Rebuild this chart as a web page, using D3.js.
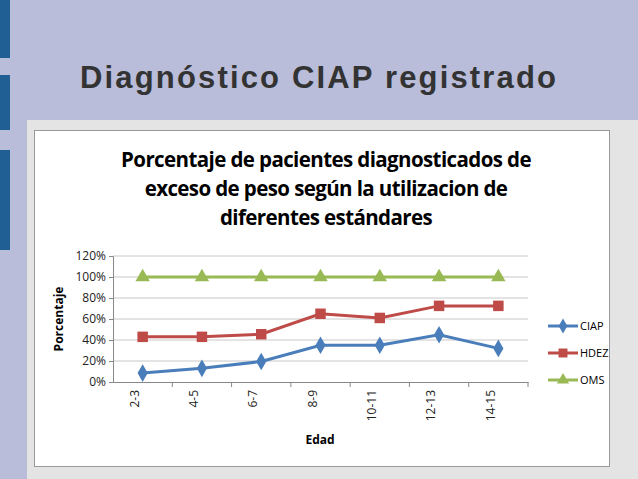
<!DOCTYPE html><html><head><meta charset="utf-8">
<script src="https://cdn.jsdelivr.net/npm/d3@7"></script>
<style>body{margin:0}</style></head><body><svg width="638" height="479"></svg>
<script>
const categories=["2-3","4-5","6-7","8-9","10-11","12-13","14-15"];
const ciap=[0.085,0.13,0.195,0.35,0.35,0.45,0.32];
const hdez=[0.43,0.43,0.455,0.65,0.61,0.725,0.725];
const oms=[1,1,1,1,1,1,1];
const yTicks=[0,0.2,0.4,0.6,0.8,1,1.2];
const series=[{name:"CIAP",v:ciap,c:"#4a7ebb",m:"diamond"},{name:"HDEZ",v:hdez,c:"#be4b48",m:"square"},{name:"OMS",v:oms,c:"#98b954",m:"triangle"}];
const svg=d3.select("svg");
svg.append("rect").attr("width",638).attr("height",479).attr("fill","#b9bdd9");
[[0,58],[75,130],[150,250]].forEach(([a,b])=>svg.append("rect").attr("x",0).attr("y",a).attr("width",10).attr("height",b-a).attr("fill","#1f5f94"));
svg.append("text").attr("x",80).attr("y",88).attr("font-family","Liberation Sans").attr("font-weight","bold").attr("font-size",31).attr("textLength",476).attr("fill","#333").text("Diagnóstico CIAP registrado");
svg.append("rect").attr("x",27).attr("y",120).attr("width",611).attr("height",359).attr("fill","#e4e4e4");
svg.append("rect").attr("x",34.5).attr("y",130.5).attr("width",575).attr("height",336).attr("fill","#fff").attr("stroke","#999");
const t=svg.append("text").attr("font-family","Open Sans").attr("font-weight","bold").attr("font-size",20.5).attr("text-anchor","middle").attr("fill","#000").attr("letter-spacing","-0.6");
["Porcentaje de pacientes diagnosticados de","exceso de peso según la utilizacion de","diferentes estándares"].forEach((s,i)=>t.append("tspan").attr("x",326).attr("y",167+i*29).text(s));
const x=d3.scaleBand().domain(categories).range([113,528]);
const y=d3.scaleLinear().domain([0,1.2]).range([382,256]);
const g=svg.append("g");
yTicks.forEach(v=>{if(v>0)g.append("line").attr("x1",113).attr("x2",528).attr("y1",y(v)).attr("y2",y(v)).attr("stroke","#c8c8c8");});
g.append("g").attr("transform","translate(113,0)").call(d3.axisLeft(y).tickValues(yTicks).tickFormat(d3.format(".0%")).tickSize(4)).call(a=>{a.select(".domain").attr("stroke","#888");a.selectAll("line").attr("stroke","#888");a.selectAll("text").attr("font-family","Open Sans").attr("font-size",12).attr("fill","#222");});
const xa=g.append("g").attr("transform","translate(0,382)").call(d3.axisBottom(x).tickSize(0).tickPadding(8));
xa.select(".domain").attr("stroke","#888");
categories.forEach((c,i)=>g.append("line").attr("x1",113+i*x.step()+x.step()).attr("x2",113+i*x.step()+x.step()).attr("y1",382).attr("y2",387).attr("stroke","#888"));
xa.selectAll("text").attr("font-family","Open Sans").attr("font-size",12).attr("fill","#222").attr("text-anchor","end").attr("dy","0.35em").attr("transform","rotate(-90) translate(-8,-8)").attr("x",0).attr("y",0);
svg.append("text").attr("x",320).attr("y",444).attr("text-anchor","middle").attr("font-family","Open Sans").attr("font-weight","bold").attr("font-size",12).text("Edad");
svg.append("text").attr("transform","translate(63,319) rotate(-90)").attr("text-anchor","middle").attr("font-family","Open Sans").attr("font-weight","bold").attr("font-size",12).text("Porcentaje");
const sym={diamond:d3.symbolDiamond,square:d3.symbolSquare,triangle:d3.symbolTriangle};
const cx=c=>x(c)+x.bandwidth()/2;
series.forEach((s,si)=>{
 g.append("path").datum(s.v).attr("fill","none").attr("stroke",s.c).attr("stroke-width",3).attr("d",d3.line().x((d,i)=>cx(categories[i])).y(d=>y(d)));
 s.v.forEach((d,i)=>g.append("path").attr("transform",`translate(${cx(categories[i])},${y(d)})`).attr("d",d3.symbol(sym[s.m],s.m=="square"?110:90)()).attr("fill",s.c));
 const ly=326+si*27;
 g.append("line").attr("x1",548).attr("x2",578).attr("y1",ly).attr("y2",ly).attr("stroke",s.c).attr("stroke-width",3);
 g.append("path").attr("transform",`translate(563,${ly})`).attr("d",d3.symbol(sym[s.m],s.m=="square"?80:65)()).attr("fill",s.c);
 g.append("text").attr("x",580).attr("y",ly+4).attr("font-family","Open Sans").attr("font-size",11).text(s.name);
});
</script></body></html>
